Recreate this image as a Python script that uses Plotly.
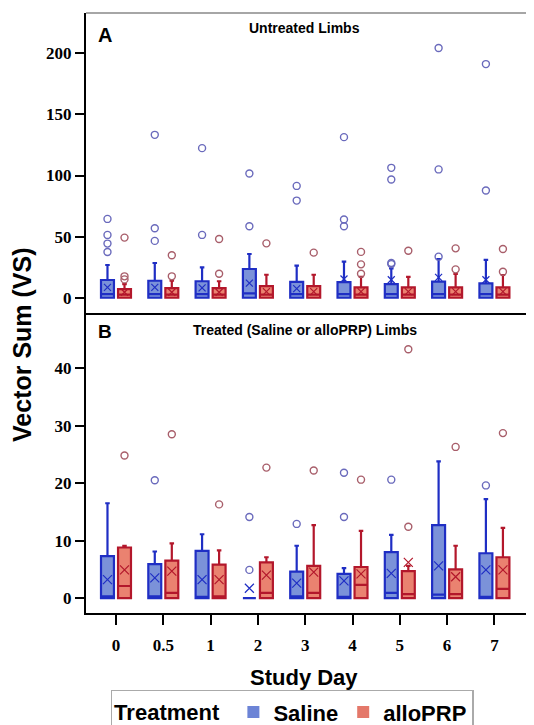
import plotly.graph_objects as go
from plotly.subplots import make_subplots

days = ["0", "0.5", "1", "2", "3", "4", "5", "6", "7"]

# ---- Panel A: Untreated limbs ----
a_sal_q1 = [0, 0, 0, 0, 0, 0, 0, 0, 0]
a_sal_median = [3, 3, 3, 3.5, 3, 3, 3, 3, 3]
a_sal_q3 = [14.5, 13.9, 13.5, 23.5, 13, 12.8, 11.2, 13.2, 11.8]
a_sal_upper = [26.8, 28.4, 24.8, 35.8, 26.2, 29.5, 24, 31.7, 30.9]
a_sal_mean = [8.5, 8.5, 8, 12, 7.5, 15.3, 14.7, 16.7, 14.7]
a_sal_outliers = [[64.5, 51.4, 44.3, 37.4], [133.3, 56.8, 46.5], [122.4, 51.4],
                  [101.6, 58.5], [91.5, 79.5], [131.4, 64, 58.5],
                  [106.3, 96.7, 28.4, 27.5], [204.4, 105, 33.6], [191.2, 87.7]]

a_prp_q1 = [0, 0, 0, 0, 0, 0, 0, 0, 0]
a_prp_median = [2.5, 2.5, 2.5, 2.5, 2.5, 2.5, 2.5, 2.5, 2.5]
a_prp_q3 = [7.1, 7.9, 7.9, 9.5, 9.5, 8.5, 8.5, 8.5, 8.5]
a_prp_upper = [11.2, 13.9, 13.5, 18.8, 18.8, 17, 17, 19.4, 18.6]
a_prp_mean = [4.5, 4.5, 4.5, 5, 5, 5, 5, 5, 5]
a_prp_outliers = [[49.2, 17.5, 15], [34.7, 17.5], [48, 19.6], [44.5], [36.9],
                  [37.5, 27.3, 19.6], [38.5], [40.4, 23.2], [39.9, 21.3]]

# ---- Panel B: Treated limbs ----
b_sal_q1 = [0, 0, 0, 0, 0, 0, 0, 0, 0]
b_sal_median = [0.3, 0.3, 0.2, 0, 0.3, 0.2, 0.9, 0.6, 0.2]
b_sal_q3 = [7.3, 5.9, 8.2, 0, 4.6, 4.2, 8.0, 12.7, 7.8]
b_sal_upper = [16.5, 8.1, 11.1, 0, 9.1, 5.2, 11.0, 23.8, 17.2]
b_sal_mean = [3.2, 3.5, 3.2, 1.7, 2.6, 3.0, 4.3, 5.6, 4.9]
b_sal_outliers = [[], [20.5], [], [14.1, 4.9], [12.9], [21.8, 14.1], [20.6], [], [19.6]]

b_prp_q1 = [0, 0, 0, 0, 0, 0, 0, 0, 0]
b_prp_median = [2.1, 0.9, 0.3, 0.9, 0.9, 2.3, 0.7, 0.7, 1.6]
b_prp_q3 = [8.8, 6.5, 5.8, 6.2, 5.6, 5.4, 4.7, 5.0, 7.1]
b_prp_upper = [9.1, 9.5, 8.3, 7.1, 12.7, 11.7, 5.6, 9.1, 12.2]
b_prp_mean = [4.9, 4.7, 3.2, 4.0, 4.5, 4.2, 6.2, 3.7, 4.9]
b_prp_outliers = [[24.8], [28.5], [16.3], [22.7], [22.2], [20.6], [43.3, 12.4], [26.3], [28.7]]

SAL_LINE, SAL_FILL, SAL_OUT = "#1f2ec4", "#7b92d9", "#6a6abc"
PRP_LINE, PRP_FILL, PRP_OUT = "#b3172b", "#ea8270", "#a85e6a"

fig = make_subplots(rows=2, cols=1, shared_xaxes=True, vertical_spacing=0)


def flat(groups):
    xs, ys = [], []
    for d, vals in zip(days, groups):
        for v in vals:
            xs.append(d)
            ys.append(v)
    return xs, ys


def add_panel(row, sal, prp, xsize):
    for key, st, lc, fc, oc in (("S", sal, SAL_LINE, SAL_FILL, SAL_OUT),
                                ("R", prp, PRP_LINE, PRP_FILL, PRP_OUT)):
        q1, med, q3, up, mean, outl = st
        fig.add_trace(go.Box(
            x=days, q1=q1, median=med, q3=q3, lowerfence=q1, upperfence=up,
            offsetgroup=key, line=dict(color=lc, width=2.2), fillcolor=fc,
            whiskerwidth=0.35, boxpoints=False, showlegend=False, hoverinfo="skip"),
            row=row, col=1)
        ox, oy = flat(outl)
        fig.add_trace(go.Box(
            x=ox, y=oy, offsetgroup=key, boxpoints="all", jitter=0, pointpos=0,
            line=dict(width=0, color="rgba(0,0,0,0)"), fillcolor="rgba(0,0,0,0)",
            whiskerwidth=0,
            marker=dict(symbol="circle-open", size=7, color=oc, line=dict(width=1.4)),
            showlegend=False, hoverinfo="skip"), row=row, col=1)
        fig.add_trace(go.Box(
            x=days, y=mean, offsetgroup=key, boxpoints="all", jitter=0, pointpos=0,
            line=dict(width=0, color="rgba(0,0,0,0)"), fillcolor="rgba(0,0,0,0)",
            whiskerwidth=0,
            marker=dict(symbol="x-thin-open", size=xsize, color=lc, line=dict(width=1.2, color=lc)),
            showlegend=False, hoverinfo="skip"), row=row, col=1)


add_panel(1, (a_sal_q1, a_sal_median, a_sal_q3, a_sal_upper, a_sal_mean, a_sal_outliers),
          (a_prp_q1, a_prp_median, a_prp_q3, a_prp_upper, a_prp_mean, a_prp_outliers), 7)
add_panel(2, (b_sal_q1, b_sal_median, b_sal_q3, b_sal_upper, b_sal_mean, b_sal_outliers),
          (b_prp_q1, b_prp_median, b_prp_q3, b_prp_upper, b_prp_mean, b_prp_outliers), 9)

# legend-only entries
fig.add_trace(go.Scatter(x=[None], y=[None], mode="markers", name="Saline",
                         marker=dict(symbol="square", size=12, color="#6c84d6")), row=2, col=1)
fig.add_trace(go.Scatter(x=[None], y=[None], mode="markers", name="alloPRP",
                         marker=dict(symbol="square", size=12, color="#e4786a")), row=2, col=1)

tickfont = dict(family="Liberation Serif", size=17, color="black", weight="bold")
sans = "Liberation Sans"

fig.update_xaxes(type="category", categoryorder="array", categoryarray=days,
                 range=[-0.634, 9.006], showgrid=False, zeroline=False,
                 showline=True, linecolor="black", linewidth=2.2)
fig.update_xaxes(ticks="", showticklabels=False, row=1, col=1)
fig.update_xaxes(ticks="outside", ticklen=10, tickwidth=1.5, tickcolor="black",
                 tickfont=tickfont, ticklabelstandoff=5, row=2, col=1)
fig.update_yaxes(showgrid=False, zeroline=False, showline=True, linecolor="black",
                 linewidth=2, ticks="outside", ticklen=9, tickwidth=1.5,
                 tickcolor="black", tickfont=tickfont)
fig.update_yaxes(range=[-12.5, 233], tickvals=[0, 50, 100, 150, 200], row=1, col=1)
fig.update_yaxes(range=[-2.6, 49.6], tickvals=[0, 10, 20, 30, 40], row=2, col=1)

fig.update_layout(
    width=534, height=725,
    margin=dict(l=78, r=0, t=5, b=120, autoexpand=False),
    paper_bgcolor="white", plot_bgcolor="white",
    boxmode="group", boxgap=0.28, boxgroupgap=0.24,
    showlegend=True,
    legend=dict(orientation="h", x=0.054, y=-0.128, xanchor="left", yanchor="top",
                bordercolor="#aaaaaa", borderwidth=1.5,
                title=dict(text="Treatment ", side="left",
                           font=dict(family=sans, size=22, color="black", weight="bold")),
                font=dict(family=sans, size=22, color="black", weight="bold"),
                itemwidth=30, tracegroupgap=0),
    shapes=[dict(type="line", xref="paper", yref="paper", x0=0, x1=1, y0=1, y1=1,
                 line=dict(color="#888888", width=1.5))],
    annotations=[
        dict(text="Vector Sum (VS)", xref="paper", yref="paper", x=-0.14, y=0.447,
             textangle=-90, showarrow=False, xanchor="center", yanchor="middle",
             font=dict(family=sans, size=25, color="black", weight="bold")),
        dict(text="Study Day", xref="paper", yref="paper", x=0.478, y=-0.108,
             showarrow=False, xanchor="center", yanchor="middle",
             font=dict(family=sans, size=22, color="black", weight="bold")),
        dict(text="Untreated Limbs", xref="paper", yref="paper", x=0.48, y=0.975,
             showarrow=False, xanchor="center", yanchor="middle",
             font=dict(family=sans, size=14, color="black", weight="bold")),
        dict(text="Treated (Saline or alloPRP) Limbs", xref="paper", yref="paper",
             x=0.48, y=0.472, showarrow=False, xanchor="center", yanchor="middle",
             font=dict(family=sans, size=14, color="black", weight="bold")),
        dict(text="A", xref="paper", yref="paper", x=0.022, y=0.963,
             showarrow=False, xanchor="left", yanchor="middle",
             font=dict(family=sans, size=20, color="black", weight="bold")),
        dict(text="B", xref="paper", yref="paper", x=0.022, y=0.47,
             showarrow=False, xanchor="left", yanchor="middle",
             font=dict(family=sans, size=19, color="black", weight="bold")),
    ],
)

fig.write_html("out.html")
